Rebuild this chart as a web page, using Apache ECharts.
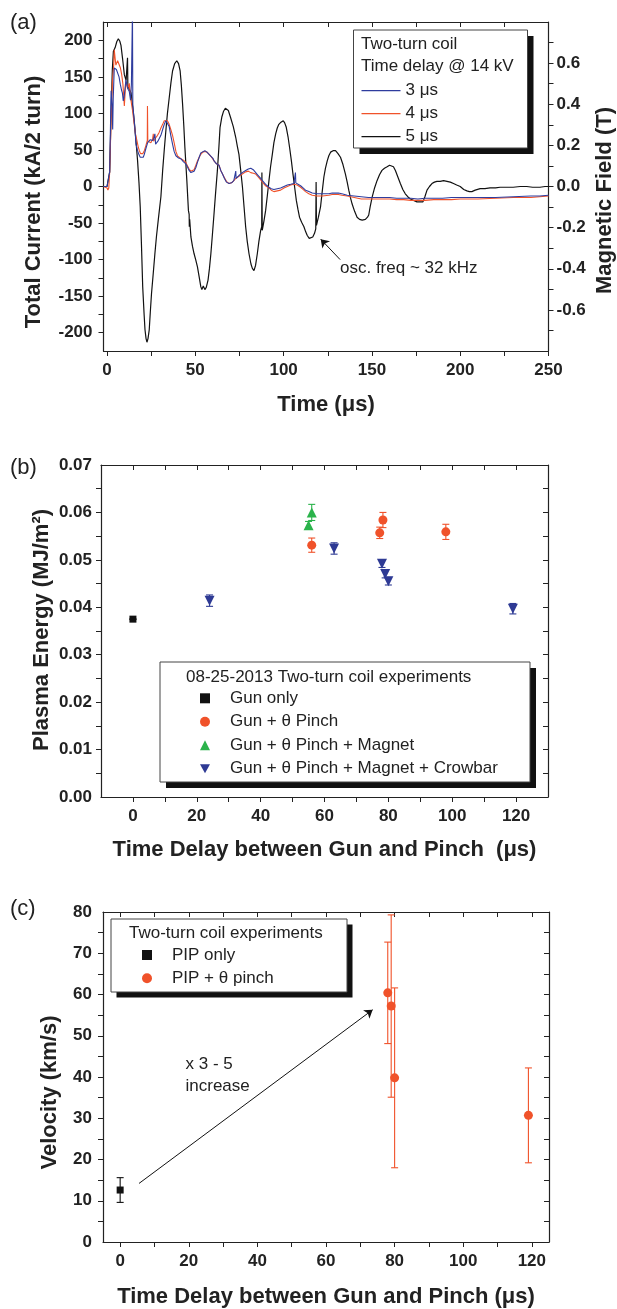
<!DOCTYPE html>
<html><head><meta charset="utf-8">
<script src="https://cdn.jsdelivr.net/npm/echarts@6/dist/echarts.min.js"></script>
<style>html,body{margin:0;padding:0;background:#fff}#c{width:617px;height:1309px}</style>
</head><body><div id="c"></div><script>
// ---------------- Panel (a) data: [time (us), current (kA/2 turn)] ----------------
const trace5us = [[-2,0],[0,0],[1,0],[1.5,20],[2.2,90],[3,160],[3.6,185],[4.6,190],[5.5,198],[6.4,202],[7.2,199],[7.9,193],[8.8,175],[9.8,153],[10.8,145],[11.3,143],[11.6,176],[11.8,137],[12.5,138],[13.6,128],[14.5,110],[15.4,90],[16.3,65],[17.3,35],[18.1,5],[18.8,-28],[19.5,-80],[20.2,-137],[21,-175],[21.5,-196],[22.1,-208],[22.6,-213],[23.2,-208],[23.9,-196],[24.5,-172],[25.2,-146],[26.2,-118],[27.1,-92],[28,-68],[29,-46],[30.5,-14],[31.5,22],[32.4,50],[33.3,76],[34.2,100],[35.2,121],[36.2,142],[37.1,158],[38.3,168],[39.5,172],[40.5,168],[41.4,158],[42.1,138],[42.8,112],[43.5,82],[44.1,53],[45.2,8],[46.1,-33],[46.5,-38],[46.6,-55],[46.8,-45],[47.5,-69],[48.4,-82],[49.3,-92],[50.2,-100],[51.2,-110],[52.2,-124],[53.1,-137],[53.7,-141],[54.5,-136],[55.4,-141],[56.2,-138],[57.2,-128],[58,-112],[58.8,-92],[59.7,-65],[60.6,-37],[61.5,-8],[62.5,22],[63.3,52],[64,81],[65,95],[66,103],[67,107],[67.6,108],[68.7,104],[70,94],[71.5,82],[72.9,67],[73.8,55],[74.7,44],[75.7,22],[76.7,-1],[77.6,-28],[78.5,-55],[79.4,-75],[80.4,-92],[81.5,-106],[82.3,-112],[83.2,-115],[84.1,-108],[85.1,-92],[86,-75],[87,-60],[87.6,-55],[87.7,19],[87.9,-60],[88.8,-48],[89.8,-33],[90.8,-12],[91.7,8],[92.6,27],[93.6,44],[94.5,60],[95.5,72],[96.4,80],[97.3,85],[98.5,88],[99.8,90],[100.6,87],[101.5,81],[102.5,68],[103.4,53],[104.4,35],[105.3,17],[106.3,-2],[107.2,-19],[108.1,-31],[109,-42],[110.2,-49],[111.5,-55],[112.5,-62],[113.4,-67],[114.5,-71],[115.6,-72],[116.5,-69],[117.5,-64],[118.2,-58],[118.4,6],[118.6,-53],[119.7,-42],[120.9,-28],[121.8,-8],[122.8,13],[123.7,25],[124.7,35],[125.6,42],[126.6,47],[128,49],[129.4,49],[130.8,45],[132.2,40],[133.6,30],[135,17],[136,6],[136.9,-5],[137.8,-15],[138.8,-24],[140.2,-34],[141.6,-42],[143,-45],[144.5,-46],[146.3,-45],[147.5,-42],[148.2,-39],[149,-28],[150.1,-15],[151.5,-2],[152.9,8],[154.3,16],[155.7,22],[157.1,25],[158.6,27],[160,29],[161,29.5],[162.2,27],[163.3,22],[164.7,13],[166.1,4],[167.5,-4],[168.9,-10],[170.3,-14],[171.8,-17],[173.6,-19],[175.5,-21],[177.2,-21],[178.9,-21],[180,-14],[181.2,-5],[182.6,0],[184,4],[185.4,6],[186.8,7],[188.7,7],[190.6,8],[192.5,7],[194.4,6],[196.2,4],[198,2],[200,0],[202,-4],[203.8,-6],[205.2,-7],[206.6,-7],[208.5,-5],[211.3,-3],[214,-3],[216.9,-2],[220,-2],[222.6,-1],[226,-1],[230,-1],[234,0],[237.7,0],[241,-1],[245.2,-1],[248,0],[250,0]];
const trace4us = [[-2,0],[0,-2],[0.5,-5],[1,-2],[1.5,20],[2.3,90],[3,140],[3.8,167],[4.1,187],[4.6,175],[5,166],[6,172],[7,171],[7.6,162],[8.3,153],[9,140],[9.8,110],[10.3,130],[10.7,144],[11.7,134],[12.6,141],[13.1,128],[13.6,117],[14.5,103],[15.4,85],[16.1,72],[16.9,63],[17.6,55],[18.3,49],[19,45],[19.6,44],[20.3,45],[21.1,49],[22,56],[22.8,63],[22.9,110],[23.1,62],[24,61],[24.9,60],[25.8,65],[26.2,72],[26.4,62],[27.7,67],[28.6,70],[29.5,74],[30.5,80],[31.5,85],[32.4,90],[33.3,92],[34.2,90],[35.2,85],[36.1,78],[37.1,70],[38,60],[39,48],[39.9,42],[41.8,38],[43.2,36],[44.6,33],[45.6,28],[46.5,24],[47.4,21],[48.4,19],[49.3,23],[50.3,29],[51.2,35],[52.2,40],[53.1,44],[54.2,47],[55.4,48],[56.6,47],[57.8,44],[59.2,40],[60.6,35],[62,31],[63.4,29],[64.4,22],[65.4,17],[66.5,12],[67.6,7],[69.1,4],[70.5,5],[71.8,8],[72.9,11],[74.7,14],[76.6,17],[78.5,20],[80,21],[81.4,19],[82.8,18],[84.2,17],[85.6,13],[87,9],[88,6],[89.8,1],[91.7,-2],[93,-5],[94.5,-7],[96.4,-6],[98.3,-5],[100.2,-2],[102.1,0],[104,2],[105.8,3],[107.7,2],[109.6,-1],[111,-4],[112.4,-7],[114.3,-10],[116.2,-12],[119,-13],[121.9,-13],[125.6,-12],[127.5,-11],[129.4,-11],[131,-11],[133,-12],[136,-13],[140,-15],[144,-17],[148,-17],[152,-17],[156,-17],[160,-17],[164,-18],[168,-18],[172,-19],[176,-19],[180,-19],[185,-18],[190,-18],[195,-18],[200,-17],[210,-17],[220,-16],[230,-15],[240,-15],[245,-14],[250,-13]];
const trace3us = [[-2,0],[0,0],[1,0],[1.5,20],[2.3,131],[2.9,110],[3.2,78],[3.5,120],[4.1,162],[4.6,163],[5.3,160],[6,158],[6.8,150],[7.5,140],[8.2,132],[8.7,128],[9.2,117],[9.8,125],[10.7,146],[11.2,140],[11.7,134],[12.6,130],[13.3,118],[13.8,140],[14.4,240],[14.6,111],[15.4,90],[16,72],[16.4,58],[17.3,49],[18,44],[18.8,40],[19.8,38],[20.5,40],[21.1,44],[22,52],[23,60],[24.5,64],[25.8,63],[26.5,66],[27.1,72],[27.5,58],[28,58],[28.8,62],[29.5,62],[30.5,70],[31.5,78],[32.4,85],[33.3,90],[34.2,88],[35.2,82],[36.1,70],[37.1,58],[38,48],[39,42],[40.5,39],[41.8,38],[43.2,34],[44.6,31],[45.5,27],[46.5,22],[47.5,19],[48.4,18],[49.3,21],[50.3,26],[51.2,33],[52.2,40],[53.1,46],[54.2,48],[55.4,49],[56.6,47],[57.8,44],[59,41],[59.5,40],[60.1,38],[60.6,35],[62,31],[63.4,29],[64.4,22],[65.4,17],[66.5,11],[67.6,6],[69.1,4],[70.5,5],[71.8,8],[72.7,10],[72.9,21],[73.1,11],[74.7,15],[76.6,19],[78.5,22],[80,24],[81.4,25],[82.8,23],[84.2,19],[85.6,15],[87,11],[88,8],[89.8,3],[91.7,-1],[93,-3],[94.5,-4],[96.4,-3],[98.3,-2],[100.2,0],[102.1,2],[104,3],[105.8,4],[106.5,5],[106.7,19],[106.9,5],[107.7,3],[109.6,1],[111,-2],[112.4,-5],[114.3,-7],[116.2,-9],[119,-10],[121.9,-10],[125.6,-10],[127.5,-9],[129.4,-9],[131,-9],[133,-10],[136,-12],[140,-13],[144,-14],[148,-15],[152,-15],[156,-15],[160,-15],[164,-16],[168,-16],[172,-16],[176,-17],[180,-16],[185,-16],[190,-16],[195,-15],[200,-15],[210,-15],[220,-15],[230,-14],[240,-13],[245,-13],[250,-12]];
const aTimeLabels = [0,50,100,150,200,250];
const aTimeTicks = [0,25,50,75,100,125,150,175,200,225,250];
const aCurrentLabels = [-200,-150,-100,-50,0,50,100,150,200];
const aCurrentTicks = [-200,-175,-150,-125,-100,-75,-50,-25,0,25,50,75,100,125,150,175,200];
const aFieldLabels = [-0.6,-0.4,-0.2,0,0.2,0.4,0.6];
const aFieldTicks = [-0.7,-0.6,-0.5,-0.4,-0.3,-0.2,-0.1,0,0.1,0.2,0.3,0.4,0.5,0.6,0.7];
const oscArrow = [[132,-100],[121,-72]];

// ---------------- Panel (b) data ----------------
const gunOnlyX = [0], gunOnlyY = [0.0375], gunOnlyErr = [0];
const pinchX = [56, 77.3, 78.3, 98], pinchY = [0.0531, 0.0557, 0.0584, 0.0559], pinchErr = [0.0015, 0.0012, 0.0016, 0.0016];
const magnetX = [55, 56], magnetY = [0.0573, 0.0600], magnetErr = [0.0008, 0.0017];
const crowbarX = [24, 63, 78, 79, 80, 119], crowbarY = [0.0414, 0.0524, 0.0492, 0.0470, 0.0455, 0.0397], crowbarErr = [0.0012, 0.0012, 0.0008, 0.0008, 0.0008, 0.0011];
const bDelayLabels = [0,20,40,60,80,100,120];
const bDelayTicks = [0,10,20,30,40,50,60,70,80,90,100,110,120];
const bEnergyLabels = [0,0.01,0.02,0.03,0.04,0.05,0.06,0.07];
const bEnergyTicks = [0.005,0.01,0.015,0.02,0.025,0.03,0.035,0.04,0.045,0.05,0.055,0.06,0.065];

// ---------------- Panel (c) data ----------------
const pipOnlyX = [0], pipOnlyY = [12.6], pipOnlyErr = [3.0];
const pipPinchX = [78, 79, 80, 119], pipPinchY = [60.4, 57.2, 39.8, 30.7], pipPinchErr = [12.3, 22.1, 21.8, 11.5];
const cDelayLabels = [0,20,40,60,80,100,120];
const cDelayTicks = [0,10,20,30,40,50,60,70,80,90,100,110,120];
const cVelLabels = [0,10,20,30,40,50,60,70,80];
const cVelTicks = [5,10,15,20,25,30,35,40,45,50,55,60,65,70,75];
const increaseArrow = [[5.5,14.2],[73.6,56.3]];

// ---------------- styling ----------------
const FONT = "'Liberation Sans', Arial, Helvetica, sans-serif";
const INK = '#222';
const C_BLUE = '#2e3c9e', C_RED = '#f0522a', C_BLACK = '#111', C_GREEN = '#2bb34b', C_NAVY = '#2e3a94';
const axisLine = {show: true, onZero: false, lineStyle: {color: INK, width: 1.2}};
const tickStyle = {color: INK, width: 1};
const labelStyle = {color: INK, fontSize: 17, fontWeight: 'bold', fontFamily: FONT};
const nameStyle = {color: INK, fontSize: 22, fontWeight: 'bold', fontFamily: FONT};

function mainAxis(grid, min, max, pos, labels, ticks, extra) {
  return Object.assign({
    type: 'value', gridIndex: grid, min: min, max: max, position: pos,
    axisLine: axisLine, splitLine: {show: false},
    axisTick: {show: true, inside: false, length: 5, customValues: ticks, lineStyle: tickStyle},
    axisLabel: Object.assign({customValues: labels, margin: 11}, labelStyle),
    nameLocation: 'middle', nameTextStyle: nameStyle
  }, extra || {});
}
function mirrorAxis(grid, min, max, pos, ticks) {
  return {
    type: 'value', gridIndex: grid, min: min, max: max, position: pos,
    axisLine: axisLine, splitLine: {show: false},
    axisTick: {show: true, inside: true, length: 5, customValues: ticks, lineStyle: tickStyle},
    axisLabel: {show: false}
  };
}
function zip3(xs, ys, es) { return xs.map((x, i) => [x, ys[i], es[i]]); }
function errSeries(xs, ys, es, color, xi, yi, cap) {
  return {
    type: 'custom', xAxisIndex: xi, yAxisIndex: yi, silent: true, z: 1,
    encode: {x: 0, y: 1}, data: zip3(xs, ys, es),
    renderItem: function (params, api) {
      const x = api.value(0), y = api.value(1), e = api.value(2);
      const p1 = api.coord([x, y + e]), p2 = api.coord([x, y - e]);
      const st = {stroke: color, lineWidth: 1.1};
      return {type: 'group', children: [
        {type: 'line', shape: {x1: p1[0], y1: p1[1], x2: p2[0], y2: p2[1]}, style: st},
        {type: 'line', shape: {x1: p1[0] - cap, y1: p1[1], x2: p1[0] + cap, y2: p1[1]}, style: st},
        {type: 'line', shape: {x1: p2[0] - cap, y1: p2[1], x2: p2[0] + cap, y2: p2[1]}, style: st}
      ]};
    }
  };
}
function scat(name, xs, ys, symbol, size, color, xi, yi, rot) {
  return {
    type: 'scatter', name: name, xAxisIndex: xi, yAxisIndex: yi, symbol: symbol, symbolSize: size,
    symbolRotate: rot || 0, itemStyle: {color: color, opacity: 1}, z: 3,
    data: xs.map((x, i) => [x, ys[i]])
  };
}
function lineSer(name, data, color, w) {
  return {type: 'line', name: name, xAxisIndex: 0, yAxisIndex: 0, data: data, symbol: 'none', showSymbol: false,
    lineStyle: {color: color, width: w}, itemStyle: {color: color}, clip: true};
}
function box(x, y, w, h, off) {
  return [
    {type: 'rect', z: 3, shape: {x: x + off, y: y + off, width: w, height: h}, style: {fill: '#111'}},
    {type: 'rect', z: 3, shape: {x: x, y: y, width: w, height: h}, style: {fill: '#fff', stroke: '#444', lineWidth: 1}}
  ];
}
function txt(x, y, s, size, extra) {
  return Object.assign({type: 'text', z: 6, x: x, y: y,
    style: {text: s, font: (size || 17) + 'px ' + FONT, fill: INK, verticalAlign: 'middle', textVerticalAlign: 'middle'}}, extra || {});
}
function vtitle(x, y, s) {
  return {type: 'text', z: 6, x: x, y: y, rotation: Math.PI / 2,
    style: {text: s, font: 'bold 22px ' + FONT, fill: INK, align: 'center', textAlign: 'center',
      verticalAlign: 'middle', textVerticalAlign: 'middle'}};
}

const chart = echarts.init(document.getElementById('c'), null, {renderer: 'canvas'});
const legendText = {color: INK, fontSize: 17, fontFamily: FONT};
const legendTextPad = Object.assign({padding: [0, 0, 0, 15]}, legendText);
const LINE_ICON = 'path://M0 0H39V1.3H0Z';
const DOWN_TRI_ICON = 'path://M0 0L10 0L5 9Z';

const blackSeries = lineSer('5 μs', trace5us, C_BLACK, 1.2);
blackSeries.markLine = {silent: true, animation: false, symbol: ['none', 'arrow'], symbolSize: 8,
  label: {show: false}, lineStyle: {color: C_BLACK, width: 1, type: 'solid'},
  data: [[{coord: oscArrow[0]}, {coord: oscArrow[1]}]]};
const pipOnlySeries = scat('PIP only', pipOnlyX, pipOnlyY, 'rect', 7, C_BLACK, 4, 4);
pipOnlySeries.markLine = {silent: true, animation: false, symbol: ['none', 'arrow'], symbolSize: 8,
  label: {show: false}, lineStyle: {color: C_BLACK, width: 1, type: 'solid'},
  data: [[{coord: increaseArrow[0]}, {coord: increaseArrow[1]}]]};

const option = {
  animation: false,
  backgroundColor: '#fff',
  grid: [
    {left: 103.5, top: 22, width: 445, height: 329},
    {left: 101, top: 465, width: 447, height: 332},
    {left: 103, top: 912, width: 446, height: 330}
  ],
  xAxis: [
    mainAxis(0, -2, 250, 'bottom', aTimeLabels, aTimeTicks, {name: 'Time (μs)', nameGap: 43}),
    mirrorAxis(0, -2, 250, 'top', aTimeTicks),
    mainAxis(1, -10, 130, 'bottom', bDelayLabels, bDelayTicks, {name: 'Time Delay between Gun and Pinch  (μs)', nameGap: 42}),
    mirrorAxis(1, -10, 130, 'top', bDelayTicks),
    mainAxis(2, -5, 125, 'bottom', cDelayLabels, cDelayTicks, {name: 'Time Delay between Gun and Pinch (μs)', nameGap: 44}),
    mirrorAxis(2, -5, 125, 'top', cDelayTicks)
  ],
  yAxis: [
    mainAxis(0, -225, 225, 'left', aCurrentLabels, aCurrentTicks),
    (function () {
      const ax = mainAxis(0, -0.8, 0.8, 'right', aFieldLabels, aFieldTicks);
      ax.axisLabel.margin = 8;
      ax.axisLabel.formatter = function (v) { return v.toFixed(1); };
      return ax;
    })(),
    (function () {
      const ax = mainAxis(1, 0, 0.07, 'left', bEnergyLabels, bEnergyTicks);
      ax.axisLabel.margin = 9;
      ax.axisLabel.formatter = function (v) { return v.toFixed(2); };
      return ax;
    })(),
    mirrorAxis(1, 0, 0.07, 'right', bEnergyTicks),
    mainAxis(2, 0, 80, 'left', cVelLabels, cVelTicks),
    mirrorAxis(2, 0, 80, 'right', cVelTicks)
  ],
  legend: [
    {data: [{name: '3 μs', icon: LINE_ICON}, {name: '4 μs', icon: LINE_ICON}, {name: '5 μs', icon: LINE_ICON}],
     orient: 'vertical', left: 361.5, top: 82.2, padding: 0, itemWidth: 39, itemHeight: 14,
     itemGap: 6, selectedMode: false, textStyle: legendText, z: 7},
    {data: ['Gun only', 'Gun + θ Pinch', 'Gun + θ Pinch + Magnet',
            {name: 'Gun + θ Pinch + Magnet + Crowbar', icon: DOWN_TRI_ICON}],
     orient: 'vertical', left: 200, top: 689.8, padding: 0, itemWidth: 10, itemHeight: 10, itemGap: 6.5,
     selectedMode: false, textStyle: legendTextPad, z: 7},
    {data: ['PIP only', 'PIP + θ pinch'], orient: 'vertical', left: 142, top: 946.5, padding: 0,
     itemWidth: 10, itemHeight: 10, itemGap: 6.3, selectedMode: false, textStyle: legendTextPad, z: 7}
  ],
  graphic: [
    ...box(353.5, 30, 174, 118, 6),
    txt(361, 44, 'Two-turn coil'),
    txt(361, 66, 'Time delay @ 14 kV'),
    ...box(160, 662, 370, 120, 6),
    txt(186, 677.5, '08-25-2013 Two-turn coil experiments'),
    ...box(111, 919, 236, 73, 5.5),
    txt(129, 933.5, 'Two-turn coil experiments'),
    txt(10, 23, '(a)', 22),
    txt(10, 468, '(b)', 22),
    txt(10, 909, '(c)', 22),
    txt(340, 268, 'osc. freq ~ 32 kHz'),
    txt(185.5, 1064, 'x 3 - 5'),
    txt(185.5, 1086, 'increase'),
    vtitle(34, 202, 'Total Current (kA/2 turn)'),
    vtitle(605, 200.5, 'Magnetic Field (T)'),
    vtitle(41.5, 630, 'Plasma Energy (MJ/m²)'),
    vtitle(50, 1092.5, 'Velocity (km/s)')
  ],
  series: [
    blackSeries,
    lineSer('4 μs', trace4us, C_RED, 1.1),
    lineSer('3 μs', trace3us, C_BLUE, 1.1),
    errSeries(gunOnlyX, gunOnlyY, gunOnlyErr, C_BLACK, 2, 2, 3.5),
    errSeries(pinchX, pinchY, pinchErr, C_RED, 2, 2, 3.5),
    errSeries(magnetX, magnetY, magnetErr, C_GREEN, 2, 2, 3.5),
    errSeries(crowbarX, crowbarY, crowbarErr, C_NAVY, 2, 2, 3.5),
    scat('Gun only', gunOnlyX, gunOnlyY, 'rect', 7, C_BLACK, 2, 2),
    scat('Gun + θ Pinch', pinchX, pinchY, 'circle', 9, C_RED, 2, 2),
    scat('Gun + θ Pinch + Magnet', magnetX, magnetY, 'triangle', 10, C_GREEN, 2, 2),
    scat('Gun + θ Pinch + Magnet + Crowbar', crowbarX, crowbarY, 'triangle', 10, C_NAVY, 2, 2, 180),
    errSeries(pipOnlyX, pipOnlyY, pipOnlyErr, C_BLACK, 4, 4, 3.5),
    errSeries(pipPinchX, pipPinchY, pipPinchErr, C_RED, 4, 4, 3.5),
    pipOnlySeries,
    scat('PIP + θ pinch', pipPinchX, pipPinchY, 'circle', 9, C_RED, 4, 4)
  ]
};
chart.setOption(option);
</script></body></html>
